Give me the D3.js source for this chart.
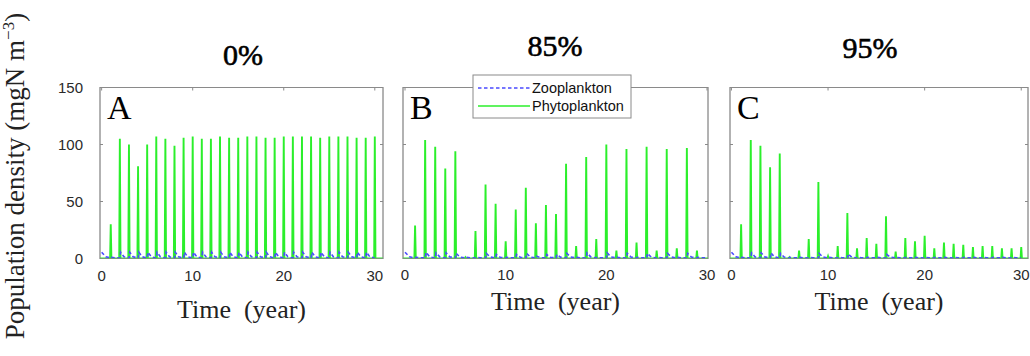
<!DOCTYPE html>
<html>
<head>
<meta charset="utf-8">
<script src="https://cdn.jsdelivr.net/npm/d3@7"></script>
<style>
  html, body { margin: 0; padding: 0; background: #fff; }
  svg { display: block; }
</style>
</head>
<body>
<svg id="chart" width="1030" height="356"></svg>
<script>
// Yearly bloom peaks of phytoplankton (mgN m^-3), years 1..30
const years = d3.range(1, 31);
const phytoA = [30, 105, 100, 81, 100, 107, 105, 99, 106, 107,
                105, 105, 107, 106, 106, 107, 107, 106, 106, 107,
                107, 107, 107, 106, 107, 107, 107, 106, 106, 107];
const phytoB = [29, 104, 98, 79, 94, 1, 24, 65, 48, 15,
                43, 62, 31, 47, 39, 83, 11, 89, 17, 100,
                7, 96, 14, 98, 7, 96, 9, 97, 7];
const phytoC = [30, 104, 99, 80, 92, 1, 7, 17, 67, 2,
                11, 40, 9, 18, 13, 37, 6, 18, 15, 20,
                9, 14, 13, 12, 10, 11, 11, 9, 9, 10];

// Zooplankton peak following each bloom, years 0..29
const zooA = [5.5, 1, 5.5, 5.5, 5.5, 5.5, 5.5, 5.5, 5.5, 5.5,
              5.5, 5.5, 5.5, 5.5, 5.5, 5.5, 5.5, 5.5, 5.5, 5.5,
              5.5, 5.5, 5.5, 5.5, 5.5, 5.5, 5.5, 5.5, 5.5, 5.5];
const zooB = [5.5, 1, 5.5, 5, 5, 4.5, 1, 1, 4.5, 3.5,
              1, 3.5, 4.5, 2, 3.5, 3.5, 4.5, 1, 5, 1,
              5, 1, 4.5, 1, 4.5, 1, 4.5, 1, 4.5, 1];
const zooC = [5.5, 1, 5, 5, 5, 4.5, 1, 1, 1, 4.5,
              1, 1, 4, 1, 1, 1, 3.5, 1, 1, 1,
              1, 1, 1, 1, 1, 1, 1, 1, 1, 1];

const panelTitles = ["0%", "85%", "95%"];
const panelLetters = ["A", "B", "C"];
const yTicks = [0, 50, 100, 150];
const xTicks = [0, 10, 20, 30];
const seriesNames = ["Zooplankton", "Phytoplankton"];

const PHYTO_COLOR = "#2bef2b";
const ZOO_COLOR = "#4a4aff";
const BOX_COLOR = "#8a8a8a";
const SERIF = "'Liberation Serif', 'DejaVu Serif', serif";
const SANS = "'Liberation Sans', Arial, sans-serif";

const panels = [
  { phyto: phytoA, zoo: zooA, xDomain: [-0.18, 30.9],  xRange: [100, 383],  titleX: 243, titleY: 65, labelY: 318, tickY: 281 },
  { phyto: phytoB, zoo: zooB, xDomain: [-0.2, 30.1],   xRange: [403, 708],  titleX: 555, titleY: 56, labelY: 310, tickY: 280 },
  { phyto: phytoC, zoo: zooC, xDomain: [-0.15, 30.7],  xRange: [730, 1028], titleX: 870, titleY: 58, labelY: 310, tickY: 280 }
];

const svg = d3.select("#chart");
const y = d3.scaleLinear().domain([0, 150]).range([258.5, 87.5]);

panels.forEach((p, i) => {
  const x = d3.scaleLinear().domain(p.xDomain).range(p.xRange);
  const g = svg.append("g");
  const [x0, x1] = p.xRange;
  const [yb, yt] = y.range();

  const clipId = "clip" + i;
  svg.append("clipPath").attr("id", clipId)
    .append("rect").attr("x", x0).attr("y", yt).attr("width", x1 - x0).attr("height", yb - yt);

  // frame
  g.append("rect").attr("x", x0).attr("y", yt).attr("width", x1 - x0).attr("height", yb - yt)
    .attr("fill", "#fff").attr("stroke", BOX_COLOR).attr("stroke-width", 1);

  // inward ticks on all four sides
  const tickG = g.append("g").attr("stroke", BOX_COLOR).attr("stroke-width", 1);
  yTicks.forEach(v => {
    tickG.append("line").attr("x1", x0).attr("x2", x0 + 3).attr("y1", y(v)).attr("y2", y(v));
    tickG.append("line").attr("x1", x1).attr("x2", x1 - 3).attr("y1", y(v)).attr("y2", y(v));
  });
  xTicks.forEach(v => {
    tickG.append("line").attr("x1", x(v)).attr("x2", x(v)).attr("y1", yt).attr("y2", yt + 3);
  });

  // time series, built from yearly peaks
  const phytoPts = [[p.xDomain[0], 0]];
  p.phyto.forEach((v, k) => {
    const t = years[k];
    phytoPts.push([t - 0.07, 0], [t, v], [t + 0.07, 0]);
  });
  phytoPts.push([p.xDomain[1], 0]);

  const zooPts = [];
  p.zoo.forEach((v, k) => {
    const t = k;
    if (k === 0) zooPts.push([0, v]);
    else zooPts.push([t + 0.02, 0.5], [t + 0.08, v]);
    zooPts.push([t + 0.45, v * 0.2 + 0.4], [t + 0.97, 0.5]);
  });

  const line = d3.line().x(d => x(d[0])).y(d => y(d[1]));
  const plot = g.append("g").attr("clip-path", `url(#${clipId})`);
  plot.append("path").datum(phytoPts).attr("d", line)
    .attr("fill", "none").attr("stroke", PHYTO_COLOR).attr("stroke-width", 1.9);
  plot.append("path").datum(zooPts).attr("d", line)
    .attr("fill", "none").attr("stroke", ZOO_COLOR).attr("stroke-width", 1.6)
    .attr("stroke-dasharray", "3.5,2.5");

  // frame edge on top so the plot sits inside it
  g.append("rect").attr("x", x0).attr("y", yt).attr("width", x1 - x0).attr("height", yb - yt)
    .attr("fill", "none").attr("stroke", BOX_COLOR).attr("stroke-width", 1).attr("stroke-opacity", 0.6);

  // x tick labels
  g.selectAll(".xt").data(xTicks).enter().append("text")
    .attr("x", d => x(d)).attr("y", p.tickY)
    .attr("text-anchor", "middle").attr("font-family", SANS).attr("font-size", 15)
    .attr("fill", "#2a2a2a").text(d => d);

  // x axis title
  g.append("text").attr("x", (x0 + x1) / 2).attr("y", p.labelY)
    .attr("text-anchor", "middle").attr("font-family", SERIF).attr("font-size", 26)
    .attr("fill", "#222").attr("xml:space", "preserve").text("Time  (year)");

  // panel title
  g.append("text").attr("x", p.titleX).attr("y", p.titleY)
    .attr("text-anchor", "middle").attr("font-family", SERIF).attr("font-size", 30)
    .attr("fill", "#000").attr("stroke", "#000").attr("stroke-width", 0.6).text(panelTitles[i]);

  // panel letter
  g.append("text").attr("x", x0 + 7).attr("y", yt + 31)
    .attr("font-family", SERIF).attr("font-size", 34).attr("fill", "#000").text(panelLetters[i]);
});

// y tick labels on the first panel
svg.selectAll(".yt").data(yTicks).enter().append("text")
  .attr("x", 83).attr("y", d => y(d) + 5)
  .attr("text-anchor", "end").attr("font-family", SANS).attr("font-size", 15)
  .attr("fill", "#2a2a2a").text(d => d);

// y axis title
const yTitle = svg.append("text")
  .attr("transform", "translate(24,176) rotate(-90)")
  .attr("text-anchor", "middle").attr("font-family", SERIF).attr("font-size", 27).attr("fill", "#222");
yTitle.append("tspan").text("Population density (mgN m");
yTitle.append("tspan").attr("dy", -10).attr("font-size", 17).text("\u22123");
yTitle.append("tspan").attr("dy", 10).text(")");

// legend
const lg = svg.append("g");
lg.append("rect").attr("x", 473).attr("y", 75).attr("width", 158).attr("height", 43)
  .attr("fill", "#fff").attr("stroke", BOX_COLOR).attr("stroke-width", 1);
const legendItems = [
  { name: seriesNames[0], color: ZOO_COLOR, dash: "3.5,2.5", yy: 88 },
  { name: seriesNames[1], color: PHYTO_COLOR, dash: null, yy: 106 }
];
legendItems.forEach(d => {
  lg.append("line").attr("x1", 478).attr("x2", 530).attr("y1", d.yy).attr("y2", d.yy)
    .attr("stroke", d.color).attr("stroke-width", 1.3).attr("stroke-dasharray", d.dash);
  lg.append("text").attr("x", 532).attr("y", d.yy + 5).attr("font-family", SANS)
    .attr("font-size", 14.5).attr("fill", "#111").text(d.name);
});
</script>
</body>
</html>
